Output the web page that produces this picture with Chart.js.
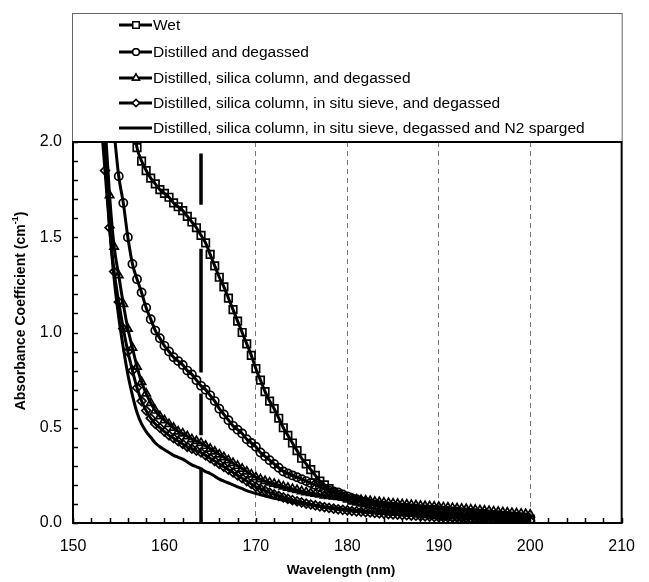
<!DOCTYPE html>
<html>
<head>
<meta charset="utf-8">
<script src="https://cdn.jsdelivr.net/npm/chart.js@4.4.1/dist/chart.umd.min.js"></script>
<style>
  body { margin: 0; background: #fff; }
  #wrap { width: 649px; height: 582px; }
</style>
</head>
<body>
<div id="wrap"><canvas id="myChart" width="649" height="582"></canvas></div>
<script>
// wavelength (nm) shared by all series
var wavelengths = [
  153, 153.5, 154, 154.5, 155, 155.5, 156, 156.5, 157, 157.5,
  158, 158.5, 159, 159.5, 160, 160.5, 161, 161.5, 162, 162.5,
  163, 163.5, 164, 164.5, 165, 165.5, 166, 166.5, 167, 167.5,
  168, 168.5, 169, 169.5, 170, 170.5, 171, 171.5, 172, 172.5,
  173, 173.5, 174, 174.5, 175, 175.5, 176, 176.5, 177, 177.5,
  178, 178.5, 179, 179.5, 180, 180.5, 181, 181.5, 182, 182.5,
  183, 183.5, 184, 184.5, 185, 185.5, 186, 186.5, 187, 187.5,
  188, 188.5, 189, 189.5, 190, 190.5, 191, 191.5, 192, 192.5,
  193, 193.5, 194, 194.5, 195, 195.5, 196, 196.5, 197, 197.5,
  198, 198.5, 199, 199.5, 200
];

var wet = [
  null, null, null, null, null, null, null, 2.12, 1.97, 1.90,
  1.85, 1.81, 1.78, 1.75, 1.73, 1.71, 1.68, 1.66, 1.64, 1.61,
  1.58, 1.55, 1.51, 1.47, 1.41, 1.35, 1.29, 1.24, 1.18, 1.12,
  1.06, 1.00, 0.94, 0.88, 0.81, 0.75, 0.69, 0.64, 0.60, 0.55,
  0.50, 0.46, 0.42, 0.38, 0.34, 0.31, 0.28, 0.25, 0.22, 0.20,
  0.18, 0.16, 0.15, 0.14, 0.13, 0.12, 0.115, 0.11, 0.105, 0.10,
  0.095, 0.09, 0.087, 0.084, 0.08, 0.077, 0.074, 0.071, 0.068, 0.065,
  0.062, 0.06, 0.058, 0.055, 0.053, 0.051, 0.049, 0.047, 0.045, 0.043,
  0.041, 0.04, 0.038, 0.036, 0.035, 0.033, 0.032, 0.03, 0.029, 0.027,
  0.026, 0.025, 0.023, 0.022, 0.02
];

var distilled = [
  null, null, null, 2.05, 1.82, 1.68, 1.50, 1.36, 1.28, 1.21,
  1.13, 1.07, 1.01, 0.97, 0.93, 0.90, 0.87, 0.85, 0.83, 0.80,
  0.78, 0.75, 0.72, 0.70, 0.67, 0.64, 0.60, 0.57, 0.54, 0.51,
  0.49, 0.47, 0.44, 0.42, 0.40, 0.37, 0.35, 0.33, 0.31, 0.29,
  0.27, 0.26, 0.25, 0.24, 0.23, 0.22, 0.21, 0.20, 0.19, 0.18,
  0.17, 0.165, 0.16, 0.15, 0.14, 0.13, 0.125, 0.115, 0.11, 0.10,
  0.095, 0.09, 0.085, 0.08, 0.075, 0.07, 0.066, 0.062, 0.058, 0.055,
  0.052, 0.049, 0.046, 0.044, 0.042, 0.04, 0.038, 0.036, 0.034, 0.033,
  0.031, 0.03, 0.029, 0.028, 0.027, 0.026, 0.025, 0.024, 0.023, 0.022,
  0.021, 0.02, 0.02, 0.019, 0.018
];

var silicaColumn = [
  null, 2.1, 1.72, 1.45, 1.30, 1.15, 1.02, 0.92, 0.82, 0.74,
  0.68, 0.63, 0.59, 0.56, 0.54, 0.52, 0.50, 0.48, 0.47, 0.455,
  0.44, 0.43, 0.42, 0.405, 0.39, 0.375, 0.36, 0.345, 0.33, 0.315,
  0.30, 0.285, 0.27, 0.255, 0.24, 0.23, 0.22, 0.213, 0.206, 0.199,
  0.192, 0.185, 0.179, 0.173, 0.167, 0.162, 0.157, 0.153, 0.149, 0.145,
  0.142, 0.139, 0.136, 0.133, 0.13, 0.127, 0.124, 0.121, 0.118, 0.115,
  0.112, 0.11, 0.107, 0.105, 0.103, 0.101, 0.099, 0.097, 0.095, 0.093,
  0.091, 0.089, 0.088, 0.086, 0.085, 0.083, 0.081, 0.079, 0.077, 0.075,
  0.073, 0.071, 0.069, 0.067, 0.065, 0.063, 0.061, 0.059, 0.057, 0.055,
  0.053, 0.051, 0.049, 0.047, 0.045
];

var sieve = [
  2.15, 1.85, 1.55, 1.32, 1.16, 1.02, 0.90, 0.80, 0.71, 0.64,
  0.59, 0.55, 0.52, 0.50, 0.48, 0.46, 0.445, 0.43, 0.415, 0.40,
  0.39, 0.38, 0.37, 0.355, 0.34, 0.325, 0.31, 0.295, 0.28, 0.265,
  0.25, 0.235, 0.22, 0.205, 0.19, 0.18, 0.17, 0.16, 0.15, 0.142,
  0.134, 0.127, 0.12, 0.114, 0.108, 0.102, 0.097, 0.092, 0.087, 0.083,
  0.079, 0.075, 0.072, 0.069, 0.066, 0.063, 0.061, 0.059, 0.057, 0.055,
  0.053, 0.051, 0.049, 0.047, 0.045, 0.044, 0.042, 0.041, 0.039, 0.038,
  0.036, 0.035, 0.034, 0.032, 0.031, 0.03, 0.029, 0.028, 0.027, 0.026,
  0.025, 0.024, 0.023, 0.022, 0.021, 0.02, 0.019, 0.018, 0.017, 0.016,
  0.015, 0.014, 0.013, 0.012, 0.011
];

var sparged = [
  2.3, 1.92, 1.55, 1.28, 1.08, 0.92, 0.78, 0.67, 0.58, 0.52,
  0.48, 0.45, 0.42, 0.40, 0.385, 0.37, 0.355, 0.345, 0.335, 0.32,
  0.305, 0.295, 0.285, 0.27, 0.26, 0.245, 0.23, 0.22, 0.21, 0.20,
  0.19, 0.18, 0.17, 0.162, 0.155, 0.148, 0.142, 0.136, 0.13, 0.125,
  0.12, 0.115, 0.11, 0.106, 0.102, 0.098, 0.095, 0.092, 0.089, 0.086,
  0.083, 0.08, 0.077, 0.074, 0.071, 0.069, 0.067, 0.065, 0.063, 0.061,
  0.059, 0.057, 0.055, 0.053, 0.052, 0.05, 0.049, 0.047, 0.046, 0.044,
  0.043, 0.042, 0.04, 0.039, 0.038, 0.037, 0.036, 0.035, 0.034, 0.033,
  0.032, 0.031, 0.03, 0.029, 0.028, 0.027, 0.026, 0.025, 0.025, 0.024,
  0.023, 0.022, 0.022, 0.021, 0.02
];

// vertical dashed marker at 164 nm (null = gap)
var markerWavelength = 164;
var markerY = [0, 0.29, null, 0.46, 0.68, null, 0.79, 1.44, null, 1.67, 1.94];

var seriesLabels = [
  'Wet',
  'Distilled and degassed',
  'Distilled, silica column, and degassed',
  'Distilled, silica column, in situ sieve, and degassed',
  'Distilled, silica column, in situ sieve, degassed and N2 sparged'
];
var seriesValues = [wet, distilled, silicaColumn, sieve, sparged];
var seriesMarkers = ['rect', 'circle', 'triangle', 'rectRot', false];
var markerSizes = [5.3, 4.1, 4.8, 4.4, 0];

var xTicks = [150, 160, 170, 180, 190, 200, 210];
var yTicks = [0, 0.5, 1.0, 1.5, 2.0];

function toPoints(vals) {
  return vals.map(function (v, i) { return { x: wavelengths[i], y: v }; });
}

var datasets = seriesValues.map(function (vals, i) {
  return {
    label: seriesLabels[i],
    data: toPoints(vals),
    borderColor: '#000',
    borderWidth: 3,
    pointStyle: seriesMarkers[i],
    pointRadius: markerSizes[i],
    pointBorderWidth: 1.7,
    pointBorderColor: '#000',
    pointBackgroundColor: 'rgba(0,0,0,0)',
    cubicInterpolationMode: 'monotone',
    spanGaps: false,
    fill: false
  };
});

datasets.push({
  label: '',
  data: markerY.map(function (v) { return { x: markerWavelength, y: v }; }),
  borderColor: '#000',
  borderWidth: 3.5,
  pointRadius: 0,
  spanGaps: false,
  fill: false
});

var FONT = '"Liberation Sans", Arial, sans-serif';

var frame = {
  id: 'frame',
  afterDatasetsDraw: function (chart) {
    var ctx = chart.ctx, a = chart.chartArea;
    var xs = chart.scales.x, ys = chart.scales.y;
    ctx.save();
    // legend box
    ctx.strokeStyle = '#666';
    ctx.lineWidth = 1;
    ctx.strokeRect(a.left - 0.5, 13.5, a.right - a.left + 1, a.top - 13.5);
    // plot frame
    ctx.strokeStyle = '#000';
    ctx.lineWidth = 2;
    ctx.strokeRect(a.left, a.top, a.right - a.left, a.bottom - a.top);
    // inward tick marks
    ctx.lineWidth = 1.5;
    ctx.beginPath();
    for (var t = xs.min; t <= xs.max + 0.001; t += 2) {
      var px = Math.round(xs.getPixelForValue(t)) + 0.5;
      ctx.moveTo(px, a.bottom);
      ctx.lineTo(px, a.bottom - 5);
    }
    for (var k = 0; k <= 20; k++) {
      var py = Math.round(ys.getPixelForValue(k / 10)) + 0.5;
      ctx.moveTo(a.left, py);
      ctx.lineTo(a.left + 5, py);
    }
    ctx.stroke();

    // legend entries
    ctx.font = '15.5px ' + FONT;
    ctx.textBaseline = 'middle';
    ctx.fillStyle = '#000';
    var rowY = [25, 52, 78, 103, 128];
    for (var i = 0; i < seriesLabels.length; i++) {
      var y = rowY[i];
      ctx.lineWidth = 3;
      ctx.beginPath();
      ctx.moveTo(119, y);
      ctx.lineTo(152, y);
      ctx.stroke();
      if (seriesMarkers[i]) {
        ctx.fillStyle = '#fff';
        ctx.strokeStyle = '#000';
        ctx.lineWidth = 1.4;
        Chart.helpers.drawPoint(ctx, {
          pointStyle: seriesMarkers[i],
          radius: markerSizes[i] - 0.8,
          rotation: 0,
          borderWidth: 1.4
        }, 136, y);
        ctx.fill();
        ctx.stroke();
      }
      ctx.fillStyle = '#000';
      ctx.fillText(seriesLabels[i], 153, y + 1);
    }

    // axis titles
    ctx.fillStyle = '#000';
    ctx.textAlign = 'center';
    ctx.textBaseline = 'middle';
    ctx.font = 'bold 13.5px ' + FONT;
    ctx.fillText('Wavelength (nm)', 341, 570);

    ctx.translate(21, 311);
    ctx.rotate(-Math.PI / 2);
    var main = 'Absorbance Coefficient (cm';
    var sup = '-1';
    var tail = ')';
    ctx.font = 'bold 14px ' + FONT;
    var w1 = ctx.measureText(main).width, w3 = ctx.measureText(tail).width;
    ctx.font = 'bold 9px ' + FONT;
    var w2 = ctx.measureText(sup).width;
    var x0 = -(w1 + w2 + w3) / 2;
    ctx.textAlign = 'left';
    ctx.font = 'bold 14px ' + FONT;
    ctx.fillText(main, x0, 0);
    ctx.fillText(tail, x0 + w1 + w2, 0);
    ctx.font = 'bold 9px ' + FONT;
    ctx.fillText(sup, x0 + w1, -5);
    ctx.restore();
  }
};

Chart.defaults.font.family = FONT;
Chart.defaults.color = '#000';

var ctx = document.getElementById('myChart').getContext('2d');
var myChart = new Chart(ctx, {
  type: 'line',
  data: { datasets: datasets },
  options: {
    responsive: false,
    animation: false,
    layout: { padding: { top: 142, right: 17, left: 0, bottom: 0 } },
    plugins: {
      legend: { display: false },
      tooltip: { enabled: false }
    },
    scales: {
      x: {
        type: 'linear',
        min: 150,
        max: 210,
        afterFit: function (s) { s.height = 59; },
        afterBuildTicks: function (s) {
          s.ticks = xTicks.map(function (v) { return { value: v }; });
        },
        ticks: { font: { size: 16 }, padding: 14, maxRotation: 0 },
        grid: {
          drawTicks: false,
          lineWidth: 1,
          color: function (c) {
            var v = c.tick && c.tick.value;
            return (v >= 170 && v <= 200) ? '#777' : 'rgba(0,0,0,0)';
          }
        },
        border: { display: false, dash: [5, 4] }
      },
      y: {
        min: 0,
        max: 2,
        afterFit: function (s) { s.width = 73; },
        afterBuildTicks: function (s) {
          s.ticks = yTicks.map(function (v) { return { value: v }; });
        },
        ticks: {
          font: { size: 16 },
          padding: 11,
          callback: function (v) { return Number(v).toFixed(1); }
        },
        grid: { display: false, drawTicks: false },
        border: { display: false }
      }
    }
  },
  plugins: [frame]
});
</script>
</body>
</html>
